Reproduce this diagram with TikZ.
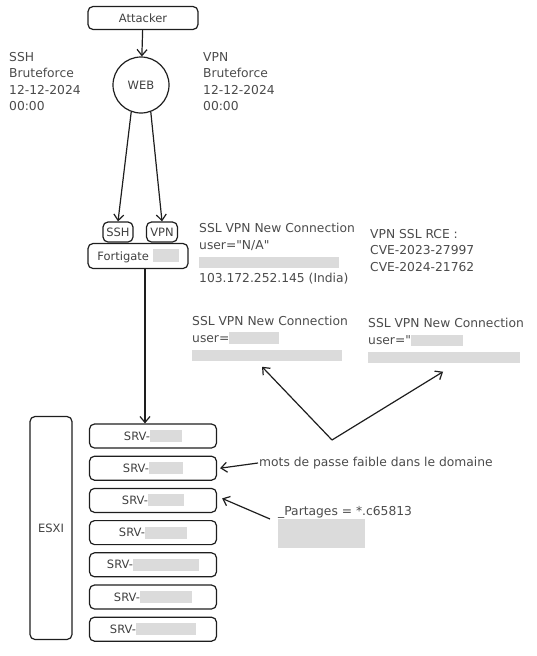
\documentclass[tikz,border=0pt]{standalone}
\usepackage{fontspec}
\setmainfont{DejaVu Sans}
\usetikzlibrary{positioning, arrows.meta}

\definecolor{ink}{HTML}{1E1E1E}
\newcommand{\redact}[2]{{\color{gray!28}\rule[-2pt]{#1}{#2}}}

\begin{document}
\begin{tikzpicture}[
    x=1pt, y=-1pt,
    font=\fontsize{12.3}{16.5}\selectfont,
    >={Straight Barb[length=6pt,width=10pt]},
    box/.style={rectangle, rounded corners=5pt, draw=ink, line width=1.2pt, text=ink!85, font=\fontsize{11.5}{12}\selectfont, inner sep=2pt, align=center},
    note/.style={align=left, text=ink!80, inner sep=1pt},
    arrow/.style={->, draw=ink, line width=1.2pt}
]
\useasboundingbox (0,0) rectangle (537,656);

% Nodes
\node[box, minimum width=110, minimum height=23] (attacker) at (143,18) {Attacker};
\node[box, circle, minimum size=56] (web) at (141,85) {WEB};

\node[note, anchor=north west] (ssh_txt) at (8,51) {SSH\\Bruteforce\\12-12-2024\\00:00};
\node[note, anchor=north west] (vpn_txt) at (202,51) {VPN\\Bruteforce\\12-12-2024\\00:00};

\node[box, minimum width=30, minimum height=20] (ssh) at (118,232) {SSH};
\node[box, minimum width=31, minimum height=20] (vpn) at (162,232) {VPN};
\node[box, minimum width=100, minimum height=25] (fortigate) at (138,256) {Fortigate \redact{26pt}{13pt}};

\node[note, anchor=north west] (ssl_na) at (198,222) {SSL VPN New Connection\\user=\textquotedbl N/A\textquotedbl\\\redact{140pt}{11pt}\\103.172.252.145 (India)};
\node[note, anchor=north west] (rce) at (369,228) {VPN SSL RCE :\\CVE-2023-27997\\CVE-2024-21762};

\node[note, anchor=north west] (ssl_a) at (191,315) {SSL VPN New Connection\\user=\redact{50pt}{12pt}\\\redact{150pt}{11pt}};
\node[note, anchor=north west] (ssl_b) at (367,317) {SSL VPN New Connection\\user=\textquotedbl\redact{52pt}{11pt}\\\redact{152pt}{11pt}};
\coordinate (vtip) at (332,440);

\node[box, minimum width=42, minimum height=223] (esxi) at (51,528) {ESXI};

\node[box, minimum width=127, minimum height=24] (srv1) at (153,436) {SRV-\redact{32pt}{12pt}};
\node[box, minimum width=127, minimum height=24, below=7pt of srv1] (srv2) {SRV-\redact{34pt}{12pt}};
\node[box, minimum width=127, minimum height=24, below=7pt of srv2] (srv3) {SRV-\redact{36pt}{12pt}};
\node[box, minimum width=127, minimum height=24, below=7pt of srv3] (srv4) {SRV-\redact{42pt}{12pt}};
\node[box, minimum width=127, minimum height=24, below=7pt of srv4] (srv5) {SRV-\redact{66pt}{12pt}};
\node[box, minimum width=127, minimum height=24, below=7pt of srv5] (srv6) {SRV-\redact{52pt}{12pt}};
\node[box, minimum width=127, minimum height=24, below=7pt of srv6] (srv7) {SRV-\redact{60pt}{12pt}};

\node[note, anchor=west] (weak) at (258,463) {mots de passe faible dans le domaine};
\node[note, anchor=north west, font=\fontsize{12.3}{14}\selectfont] (partages) at (277,505) {\_Partages = *.c65813\\\redact{87pt}{29pt}};

% Connections
\draw[arrow] (attacker) -- (web);
\draw[arrow] (web.250) -- (ssh.north);
\draw[arrow] (web.290) -- (vpn.north);
\draw[arrow] ([xshift=7pt]fortigate.south) -- ([xshift=7pt]fortigate.south |- srv1.north);

\draw[arrow] (vtip) -- ([xshift=-8pt,yshift=-5pt]ssl_a.south);
\draw[arrow] (vtip) -- ([xshift=-3pt,yshift=-8pt]ssl_b.south);

\draw[arrow] (weak.west) -- ([xshift=3pt]srv2.east);
\draw[arrow] ([xshift=-7pt,yshift=-14pt]partages.north west) -- ([xshift=5pt,yshift=2pt]srv3.east);

\end{tikzpicture}
\end{document}
